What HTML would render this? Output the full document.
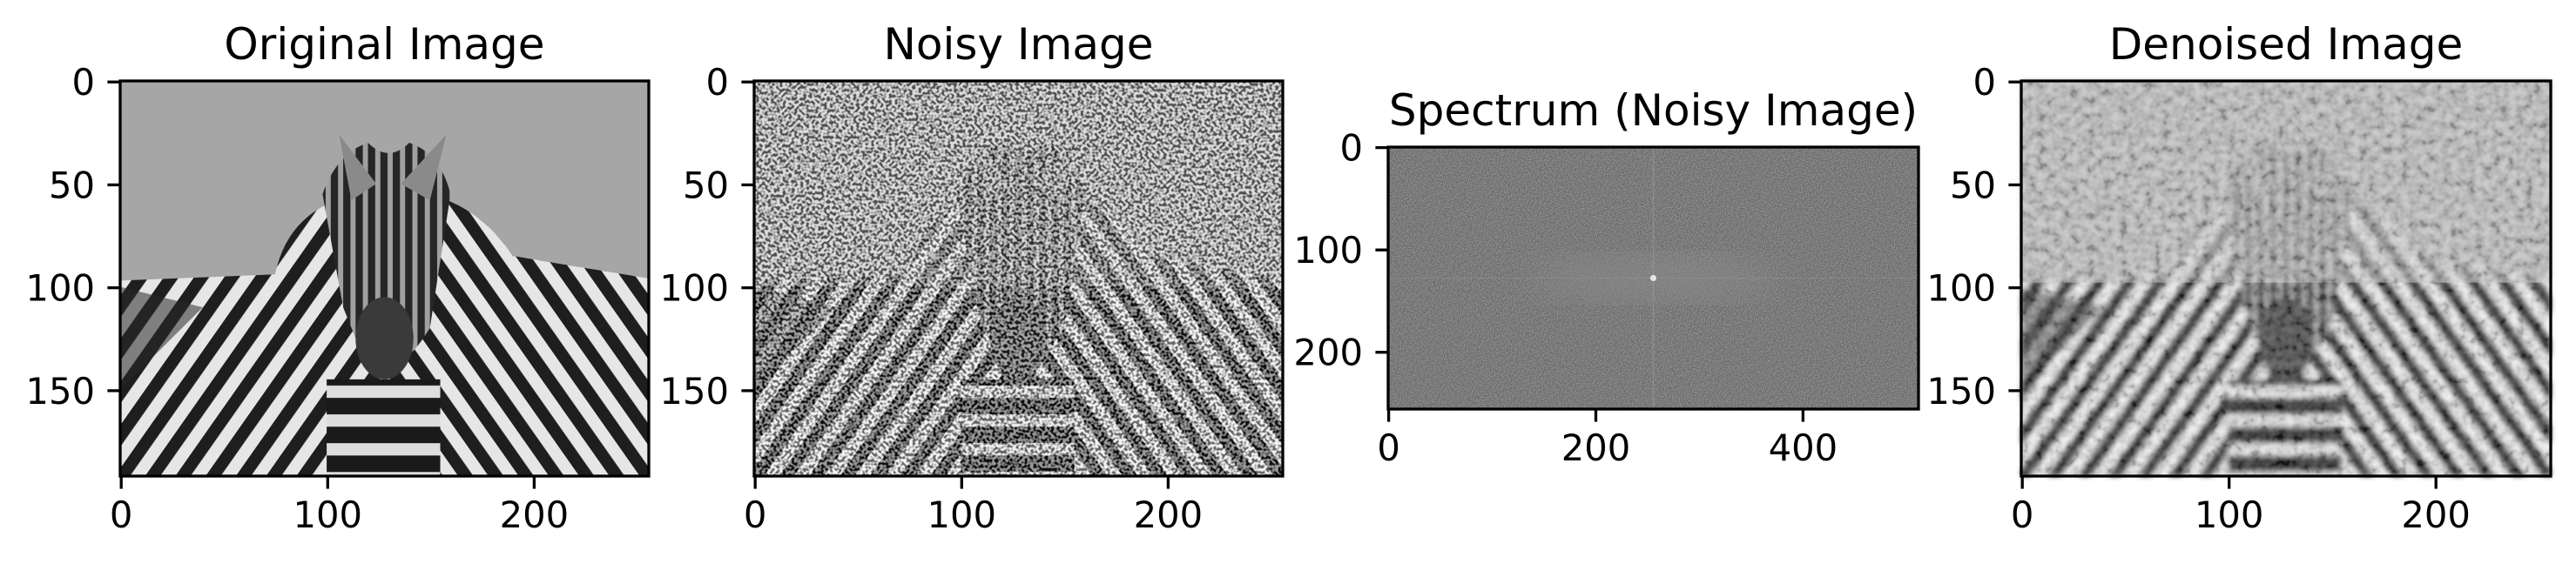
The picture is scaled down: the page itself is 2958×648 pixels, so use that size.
<!DOCTYPE html>
<html><head><meta charset="utf-8"><style>
html,body{margin:0;padding:0;background:#fff;}
svg{display:block;font-family:"DejaVu Sans","Liberation Sans",sans-serif;}
</style></head><body>
<svg id="fig" width="2958" height="648" viewBox="0 0 2958 648" xmlns="http://www.w3.org/2000/svg">
<defs>
  <pattern id="stripesL" patternUnits="userSpaceOnUse" width="12" height="12" patternTransform="rotate(35)">
    <rect width="12" height="12" fill="#e6e6e6"/><rect width="6" height="12" fill="#1e1e1e"/>
  </pattern>
  <pattern id="stripesR" patternUnits="userSpaceOnUse" width="12" height="12" patternTransform="rotate(-35)">
    <rect width="12" height="12" fill="#e6e6e6"/><rect width="6" height="12" fill="#1e1e1e"/>
  </pattern>
  <pattern id="stripesH" patternUnits="userSpaceOnUse" width="6" height="6">
    <rect width="6" height="6" fill="#a0a0a0"/><rect width="3.5" height="6" fill="#262626"/>
  </pattern>
  <pattern id="stripesN" patternUnits="userSpaceOnUse" width="14" height="14">
    <rect width="14" height="14" fill="#dddddd"/><rect width="14" height="8" fill="#1a1a1a"/>
  </pattern>
  <filter id="noise" x="0" y="0" width="100%" height="100%">
    <feTurbulence type="fractalNoise" baseFrequency="0.9" numOctaves="1" seed="3"/>
    <feColorMatrix type="matrix" values="0 0 0 0 0.35  0 0 0 0 0.35  0 0 0 0 0.35  4 0 0 0 -1.6"/>
  </filter>
  <filter id="noiseBW" x="0" y="0" width="100%" height="100%">
    <feTurbulence type="fractalNoise" baseFrequency="0.7" numOctaves="1" seed="7"/>
    <feColorMatrix type="matrix" values="5 0 0 0 -2.1  5 0 0 0 -2.1  5 0 0 0 -2.1  0 0 0 0 0.55"/>
  </filter>
  <filter id="noiseSoft" x="0" y="0" width="100%" height="100%">
    <feTurbulence type="fractalNoise" baseFrequency="0.25" numOctaves="2" seed="11"/>
    <feColorMatrix type="matrix" values="2 0 0 0 -0.5  2 0 0 0 -0.5  2 0 0 0 -0.5  0 0 0 0 0.25"/>
  </filter>
  <filter id="blur"><feGaussianBlur stdDeviation="1.2"/></filter>
  <filter id="glow"><feGaussianBlur stdDeviation="18"/></filter>
  <g id="zebra">
    <rect x="0" y="0" width="256" height="192" fill="#a6a6a6"/>
    <path d="M0,97 L75,94 Q80,70 100,60 L120,55 L150,55 Q175,62 190,85 L256,96 L256,192 L0,192 Z" fill="url(#stripesL)"/>
    <path d="M128,55 L150,55 Q175,62 190,85 L256,96 L256,192 L128,192 Z" fill="url(#stripesR)"/>
    <path d="M0,100 L40,110 L0,150 Z" fill="#2a2a2a" opacity="0.55"/>
    <path d="M98,55 Q105,35 120,30 Q130,40 140,30 Q155,35 160,55 L150,120 Q135,145 120,140 L108,110 Z" fill="url(#stripesH)"/>
    <path d="M106,26 L112,58 L124,50 Z M136,50 L150,58 L158,26 Z" fill="#8a8a8a"/>
    <ellipse cx="128" cy="125" rx="14" ry="20" fill="#3a3a3a"/>
    <rect x="100" y="145" width="55" height="47" fill="url(#stripesN)"/>
  </g>
</defs>
<g id="layer"></g>
</svg>
<script>
// ---- chart data (per panel) ----
const panelTitles = ["Original Image", "Noisy Image", "Spectrum (Noisy Image)", "Denoised Image"];
const imgWidths = [256, 256, 512, 256];
const imgHeights = [192, 192, 256, 192];
const xTicks1 = [0, 100, 200];
const yTicks1 = [0, 50, 100, 150];
const xTicks3 = [0, 200, 400];
const yTicks3 = [0, 100, 200];

const NS = "http://www.w3.org/2000/svg";
const layer = document.getElementById("layer");
const boxes = [
  {x0:138, x1:745, y0:93, y1:547},
  {x0:866, x1:1473, y0:93, y1:547},
  {x0:1594, x1:2203, y0:169, y1:470},
  {x0:2321, x1:2929, y0:93, y1:547}
];
const slugs = ["original-image","noisy-image","spectrum","denoised-image"];
function mk(tag, attrs, parent){
  const e=document.createElementNS(NS,tag);
  for(const k in attrs) e.setAttribute(k,attrs[k]);
  (parent||layer).appendChild(e); return e;
}
boxes.forEach((b,i)=>{
  const W=imgWidths[i], H=imgHeights[i];
  const sx=(b.x1-b.x0)/W, sy=(b.y1-b.y0)/H;
  const xs=v=>b.x0+(v+0.5)*sx, ys=v=>b.y0+(v+0.5)*sy;
  const g=mk("g",{});
  
  
  const img=mk("g",{transform:`translate(${b.x0},${b.y0}) scale(${sx},${sy})`},g);
  
  
  if(i===0){
    mk("use",{href:"#zebra"},img);
  } else if(i===1){
    mk("use",{href:"#zebra"},img);
    mk("rect",{x:0,y:0,width:W,height:100,fill:"#c8c8c8",opacity:0.4},img);
    mk("rect",{x:0,y:0,width:W,height:H,filter:"url(#noiseBW)"},img);
  } else if(i===3){
    mk("use",{href:"#zebra",filter:"url(#blur)"},img);
    mk("rect",{x:0,y:0,width:W,height:98,fill:"#c4c4c4",opacity:0.6},img);
    mk("rect",{x:0,y:0,width:W,height:H,filter:"url(#noiseSoft)"},img);
  } else {
    mk("rect",{x:0,y:0,width:W,height:H,fill:"#6c6c6c"},img);
    mk("rect",{x:0,y:0,width:W,height:H,filter:"url(#noise)",opacity:0.7},img);
    mk("ellipse",{cx:256,cy:128,rx:120,ry:22,fill:"#8a8a8a",filter:"url(#glow)",opacity:0.7},img);
    mk("line",{x1:256,y1:0,x2:256,y2:H,stroke:"#999",'stroke-width':1.2,opacity:0.6},img);
    mk("line",{x1:0,y1:128,x2:W,y2:128,stroke:"#999",'stroke-width':0.8,opacity:0.4},img);
    mk("circle",{cx:256,cy:128,r:3,fill:"#eee",opacity:0.9},img);
  }
  const sp=mk("rect",{x:b.x0,y:b.y0,width:b.x1-b.x0,height:b.y1-b.y0,fill:"none",stroke:"#000",'stroke-width':3.3},g);
  
  
  const xt = i===2 ? xTicks3 : xTicks1;
  const yt = i===2 ? yTicks3 : yTicks1;
  xt.forEach(v=>{
    const x=xs(v);
    mk("line",{x1:x,y1:b.y1,x2:x,y2:b.y1+14.6,stroke:"#000",'stroke-width':3.3},g);
    const t=mk("text",{x:x,y:b.y1+59,'font-size':41.7,'text-anchor':'middle'},g);
    t.textContent=v;
    
    
  });
  yt.forEach(v=>{
    const y=ys(v);
    mk("line",{x1:b.x0,y1:y,x2:b.x0-14.6,y2:y,stroke:"#000",'stroke-width':3.3},g);
    const t=mk("text",{x:b.x0-29,y:y+15,'font-size':41.7,'text-anchor':'end'},g);
    t.textContent=v;
    
    
  });
  const tt=mk("text",{x:(b.x0+b.x1)/2,y:b.y0-25,'font-size':50,'text-anchor':'middle'},g);
  tt.textContent=panelTitles[i];
  
  
});
</script>
</body></html>
